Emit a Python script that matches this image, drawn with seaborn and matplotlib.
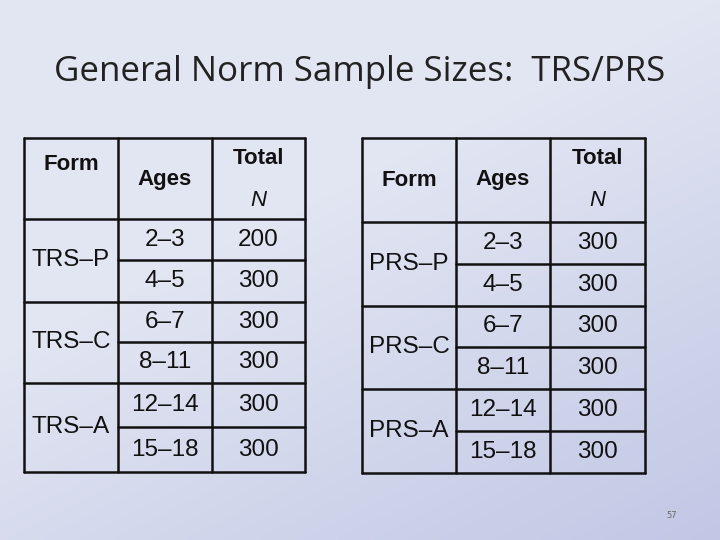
import numpy as np
import matplotlib
matplotlib.use("Agg")
import matplotlib.pyplot as plt
import seaborn as sns

sns.set_style("white")

# Data
trs_forms = ["TRS–P", "TRS–C", "TRS–A"]
prs_forms = ["PRS–P", "PRS–C", "PRS–A"]
ages = ["2–3", "4–5", "6–7", "8–11", "12–14", "15–18"]
trs_totals = [200, 300, 300, 300, 300, 300]
prs_totals = [300, 300, 300, 300, 300, 300]

fig = plt.figure(figsize=(7.2, 5.4), dpi=100)
ax = fig.add_axes([0, 0, 1, 1])
ax.set_xlim(0, 720)
ax.set_ylim(540, 0)
ax.axis("off")

# background gradient
xx, yy = np.meshgrid(np.linspace(0, 1, 200), np.linspace(0, 1, 150))
t = np.clip((xx * 0.6 + yy * 0.9) - 0.6, 0, 1)
top = np.array([226, 229, 242]) / 255
bot = np.array([190, 196, 228]) / 255
img = top[None, None, :] * (1 - t[..., None]) + bot[None, None, :] * t[..., None]
ax.imshow(img, extent=[0, 720, 540, 0], aspect="auto", zorder=0)

ax.text(360, 72, "General Norm Sample Sizes:  TRS/PRS", ha="center", va="center",
        fontsize=25, family="Open Sans", color="#222222")

font = dict(family="Liberation Sans", color="#111111")


def draw_table(xs, ys, forms, totals, form_y_offset):
    lw = 1.8
    for x in xs:
        ax.plot([x, x], [ys[0], ys[-1]], color="#111111", lw=lw, zorder=2)
    ax.plot([xs[0], xs[-1]], [ys[0], ys[0]], color="#111111", lw=lw)
    ax.plot([xs[0], xs[-1]], [ys[1], ys[1]], color="#111111", lw=lw)
    for i in range(2, len(ys)):
        x0 = xs[0] if i % 2 == 1 else xs[1]
        ax.plot([x0, xs[-1]], [ys[i], ys[i]], color="#111111", lw=lw)
    cx = [(xs[i] + xs[i + 1]) / 2 for i in range(3)]
    # header
    ax.text(cx[0], ys[0] + 26 + form_y_offset, "Form", ha="center", va="center",
            fontsize=16, fontweight="bold", **font)
    ax.text(cx[1], ys[0] + 42, "Ages", ha="center", va="center",
            fontsize=16, fontweight="bold", **font)
    ax.text(cx[2], ys[0] + 21, "Total", ha="center", va="center",
            fontsize=16, fontweight="bold", **font)
    ax.text(cx[2], ys[0] + 63, "N", ha="center", va="center",
            fontsize=16, style="italic", **font)
    for k, f in enumerate(forms):
        ymid = ys[1 + 2 * k + 1]
        ax.text(cx[0], ymid, f, ha="center", va="center", fontsize=17.5, **font)
    for k in range(len(ages)):
        ym = (ys[k + 1] + ys[k + 2]) / 2
        ax.text(cx[1], ym, ages[k], ha="center", va="center", fontsize=17.5, **font)
        ax.text(cx[2], ym, str(totals[k]), ha="center", va="center", fontsize=17.5, **font)


draw_table([24, 118, 212, 305], [138, 219, 260, 302, 342, 383, 427, 472],
           trs_forms, trs_totals, 0)
draw_table([362, 456, 550, 645], [138, 222, 264, 306, 347, 389, 431, 473],
           prs_forms, prs_totals, 16)

ax.text(672, 515, "57", ha="center", va="center", fontsize=6, color="#666666")

fig.savefig("out.png", dpi=100)
